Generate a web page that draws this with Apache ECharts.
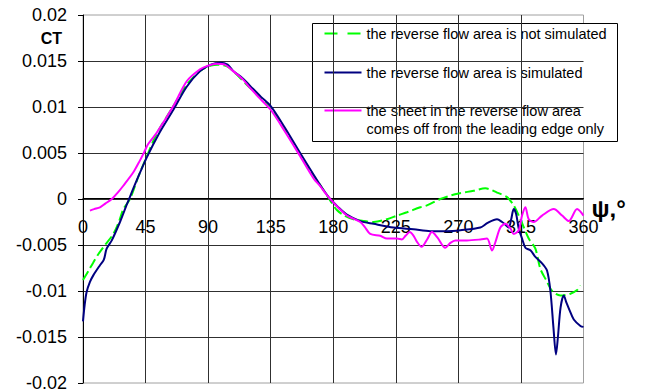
<!DOCTYPE html>
<html>
<head>
<meta charset="utf-8">
<script src="https://cdn.jsdelivr.net/npm/echarts@6/dist/echarts.min.js"></script>
<style>
  html, body { margin: 0; padding: 0; background: #ffffff; }
  #chart { width: 646px; height: 392px; }
</style>
</head>
<body>
<div id="chart"></div>
<script>
// Azimuth ticks (degrees) and thrust-coefficient ticks
const psiTicks = [0, 45, 90, 135, 180, 225, 270, 315, 360];
const ctTicks = [-0.02, -0.015, -0.01, -0.005, 0, 0.005, 0.01, 0.015, 0.02];

const seriesNames = [
  'the reverse flow area is not simulated',
  'the reverse flow area is simulated',
  'the sheet in the reverse flow area\ncomes off from the leading edge only'
];

// Reverse flow area not simulated
const notSimPsi = [0, 4, 7.4, 11, 15.8, 21.8, 26, 29, 33.8, 40, 45.8, 53, 65, 75, 85, 92, 97, 104, 110, 120, 128, 135, 145, 156, 166, 172, 178, 182.6, 188, 194.6, 202, 209, 218.6, 226, 233, 242.6, 247.4, 257, 265, 270.2, 281, 289.4, 297.8, 305, 309.8, 314.6, 320.6, 325.4, 329, 333.8, 337.4, 343.4, 350.6, 355.4, 357.8];
const notSimCt = [-0.0088, -0.0078, -0.0069, -0.0060, -0.0050, -0.0038, -0.0024, -0.0011, 0, 0.0025, 0.0046, 0.0071, 0.0101, 0.0125, 0.0140, 0.0145, 0.0146, 0.0144, 0.0136, 0.0121, 0.0110, 0.0099, 0.0075, 0.0049, 0.0025, 0.0012, -0.0002, -0.0012, -0.0018, -0.0022, -0.0024, -0.0025, -0.0022, -0.0018, -0.00144, -0.0009, -0.0007, 0, 0.0004, 0.0006, 0.0009, 0.00116, 0.0007, 0.0002, -0.0007, -0.0022, -0.0043, -0.0054, -0.0076, -0.0090, -0.0100, -0.0105, -0.0103, -0.0099, -0.0094];

// Reverse flow area simulated
const simPsi = [0, 1.2, 2.6, 5, 7.4, 12.2, 15, 17, 20.7, 26.6, 30.2, 32.6, 38, 45.8, 55, 65, 74.6, 84.2, 92, 98.6, 104, 108.2, 115, 120.2, 128, 135, 145, 156.2, 166, 172, 177.8, 183, 189.8, 199.4, 209, 223.4, 237.8, 249.8, 261.8, 271.4, 285.8, 291, 297.8, 301.5, 303.8, 306.2, 308, 309.8, 311.5, 313.4, 315.8, 318.2, 322, 325.4, 330.2, 333.8, 336.2, 338.4, 340.2, 341.6, 343.5, 345.8, 347.8, 350, 353, 357.8, 360];
const simCt = [-0.0133, -0.0115, -0.0101, -0.0090, -0.0083, -0.0072, -0.0066, -0.0054, -0.0045, -0.0025, -0.0011, -0.0002, 0.0018, 0.0045, 0.0072, 0.0097, 0.0122, 0.0139, 0.0146, 0.0148, 0.0146, 0.0139, 0.0131, 0.0123, 0.0111, 0.0101, 0.0078, 0.0050, 0.0026, 0.0012, 0, -0.0008, -0.0017, -0.0024, -0.0027, -0.0031, -0.0033, -0.0035, -0.0035, -0.0034, -0.0031, -0.0026, -0.0022, -0.0025, -0.0028, -0.0031, -0.0022, -0.0011, -0.0016, -0.0032, -0.0043, -0.0053, -0.0056, -0.0063, -0.0070, -0.0078, -0.0100, -0.0140, -0.0169, -0.0150, -0.0118, -0.0105, -0.0113, -0.0121, -0.0131, -0.0138, -0.0139];

// Sheet comes off from the leading edge only
const edgePsi = [5, 8, 12.2, 16, 20.7, 25, 29, 36.2, 41, 43.4, 44.6, 47, 53, 65, 74.6, 84.2, 90, 96.2, 102, 108, 115, 120, 128, 135, 145, 156, 166, 170.6, 175, 180.2, 184, 189.8, 194, 199.4, 202.5, 206.6, 213.8, 218.6, 225.8, 229.4, 232, 235, 237.8, 240, 243.5, 247.5, 251, 255, 260.6, 264, 267.8, 276.2, 285.8, 290.6, 294.2, 296.6, 300.2, 303.8, 307.4, 309.8, 313.4, 315.8, 318.2, 320.6, 324.2, 330.2, 338.6, 344.6, 349.4, 355.4, 360];
const edgeCt = [-0.00126, -0.0011, -0.0009, -0.0005, 0, 0.0007, 0.00144, 0.0029, 0.0042, 0.0049, 0.0053, 0.0060, 0.0072, 0.0101, 0.0128, 0.0141, 0.0145, 0.0147, 0.0146, 0.0139, 0.0130, 0.0121, 0.0108, 0.0097, 0.0074, 0.0047, 0.0022, 0.0014, 0.0005, -0.0004, -0.0010, -0.0018, -0.0021, -0.0025, -0.0030, -0.0038, -0.0040, -0.0043, -0.0043, -0.0044, -0.0040, -0.0036, -0.0040, -0.0046, -0.0052, -0.0044, -0.0036, -0.0042, -0.0053, -0.0048, -0.0045, -0.0045, -0.0044, -0.0043, -0.0056, -0.0047, -0.0031, -0.0027, -0.0032, -0.0038, -0.0034, -0.0018, -0.0009, -0.0022, -0.0025, -0.0018, -0.0011, -0.0018, -0.0024, -0.0011, -0.0018];

const zip = (xs, ys) => xs.map((x, i) => [x, ys[i]]);

const FONT = 'Liberation Sans, Arial, sans-serif';
const GREEN = '#00ff00', NAVY = '#000080', MAGENTA = '#ff00ff';

// Plot area in pixels; the ψ axis runs along CT = 0, i.e. halfway up
const GRID = { left: 83, right: 62.5, top: 15, bottom: 7 };
const plotHeight = 392 - GRID.top - GRID.bottom;
const zeroFraction = (0 - ctTicks[0]) / (ctTicks[ctTicks.length - 1] - ctTicks[0]);

const chart = echarts.init(document.getElementById('chart'), null, { renderer: 'svg' });

// Legend box drawn as a group of primitives (icon line + text per row)
const legendLeft = 312, legendTop = 23;
const legendRows = [
  { y: 10, color: GREEN, dash: [13, 10], text: seriesNames[0] },
  { y: 49, color: NAVY, dash: null, text: seriesNames[1] },
  { y: 87, color: MAGENTA, dash: null, text: seriesNames[2] }
];
const legendChildren = [{
  type: 'rect',
  shape: { x: 0, y: 0, width: 305, height: 118 },
  style: { fill: '#ffffff', stroke: '#000000', lineWidth: 1 }
}];
legendRows.forEach(r => {
  legendChildren.push({
    type: 'line',
    shape: { x1: 12, y1: r.y, x2: 49, y2: r.y },
    style: { stroke: r.color, lineWidth: 2, lineDash: r.dash || null }
  });
  legendChildren.push({
    type: 'text',
    x: 54, y: r.y - 9,
    style: { text: r.text, fill: '#000000', font: '14.5px ' + FONT, lineHeight: 18, verticalAlign: 'top' }
  });
});

const option = {
  backgroundColor: '#ffffff',
  animation: false,
  textStyle: { fontFamily: FONT },
  grid: {
    left: GRID.left, right: GRID.right, top: GRID.top, bottom: GRID.bottom,
    show: true, borderColor: '#a0a0a0', borderWidth: 1, backgroundColor: 'transparent'
  },
  xAxis: {
    type: 'value',
    position: 'bottom',
    offset: -plotHeight * zeroFraction,
    min: psiTicks[0], max: psiTicks[psiTicks.length - 1], interval: psiTicks[1] - psiTicks[0],
    name: 'ψ,°',
    nameLocation: 'end',
    nameGap: 8,
    nameMoveOverlap: false,
    nameTextStyle: {
      fontFamily: FONT, fontSize: 24, fontWeight: 'bold', color: '#000',
      align: 'left', verticalAlign: 'top', lineHeight: 20
    },
    axisLine: { onZero: false, lineStyle: { color: '#000', width: 1 } },
    axisTick: { show: false },
    axisLabel: { color: '#000', fontSize: 18, fontFamily: FONT, margin: 20, hideOverlap: false },
    splitLine: { show: true, showMinLine: false, showMaxLine: false, lineStyle: { color: '#303030', width: 1 } }
  },
  yAxis: {
    type: 'value',
    min: ctTicks[0], max: ctTicks[ctTicks.length - 1], interval: ctTicks[1] - ctTicks[0],
    name: 'CT',
    nameLocation: 'end',
    nameGap: -23,
    nameMoveOverlap: false,
    nameTextStyle: {
      fontFamily: FONT, fontSize: 16, fontWeight: 'bold', color: '#000',
      align: 'right', verticalAlign: 'middle', padding: [0, 21, 0, 0]
    },
    axisLine: { show: true, lineStyle: { color: '#000', width: 1 } },
    axisTick: { show: true, inside: false, length: 5, lineStyle: { color: '#000' } },
    axisLabel: {
      color: '#000', fontSize: 18, fontFamily: FONT, margin: 16,
      formatter: v => String(+v.toFixed(3))
    },
    splitLine: { show: true, showMinLine: false, showMaxLine: false, lineStyle: { color: '#303030', width: 1 } }
  },
  series: [
    {
      name: seriesNames[0], type: 'line', data: zip(notSimPsi, notSimCt),
      showSymbol: false, smooth: 0.3, z: 2,
      lineStyle: { color: GREEN, width: 2, type: [10, 4] }
    },
    {
      name: seriesNames[1], type: 'line', data: zip(simPsi, simCt),
      showSymbol: false, smooth: 0.3, z: 3,
      lineStyle: { color: NAVY, width: 2 }
    },
    {
      name: seriesNames[2], type: 'line', data: zip(edgePsi, edgeCt),
      showSymbol: false, smooth: 0.3, z: 4,
      lineStyle: { color: MAGENTA, width: 2 }
    }
  ],
  graphic: [{
    type: 'group', left: legendLeft, top: legendTop, z: 100,
    children: legendChildren
  }]
};

chart.setOption(option);
</script>
</body>
</html>
